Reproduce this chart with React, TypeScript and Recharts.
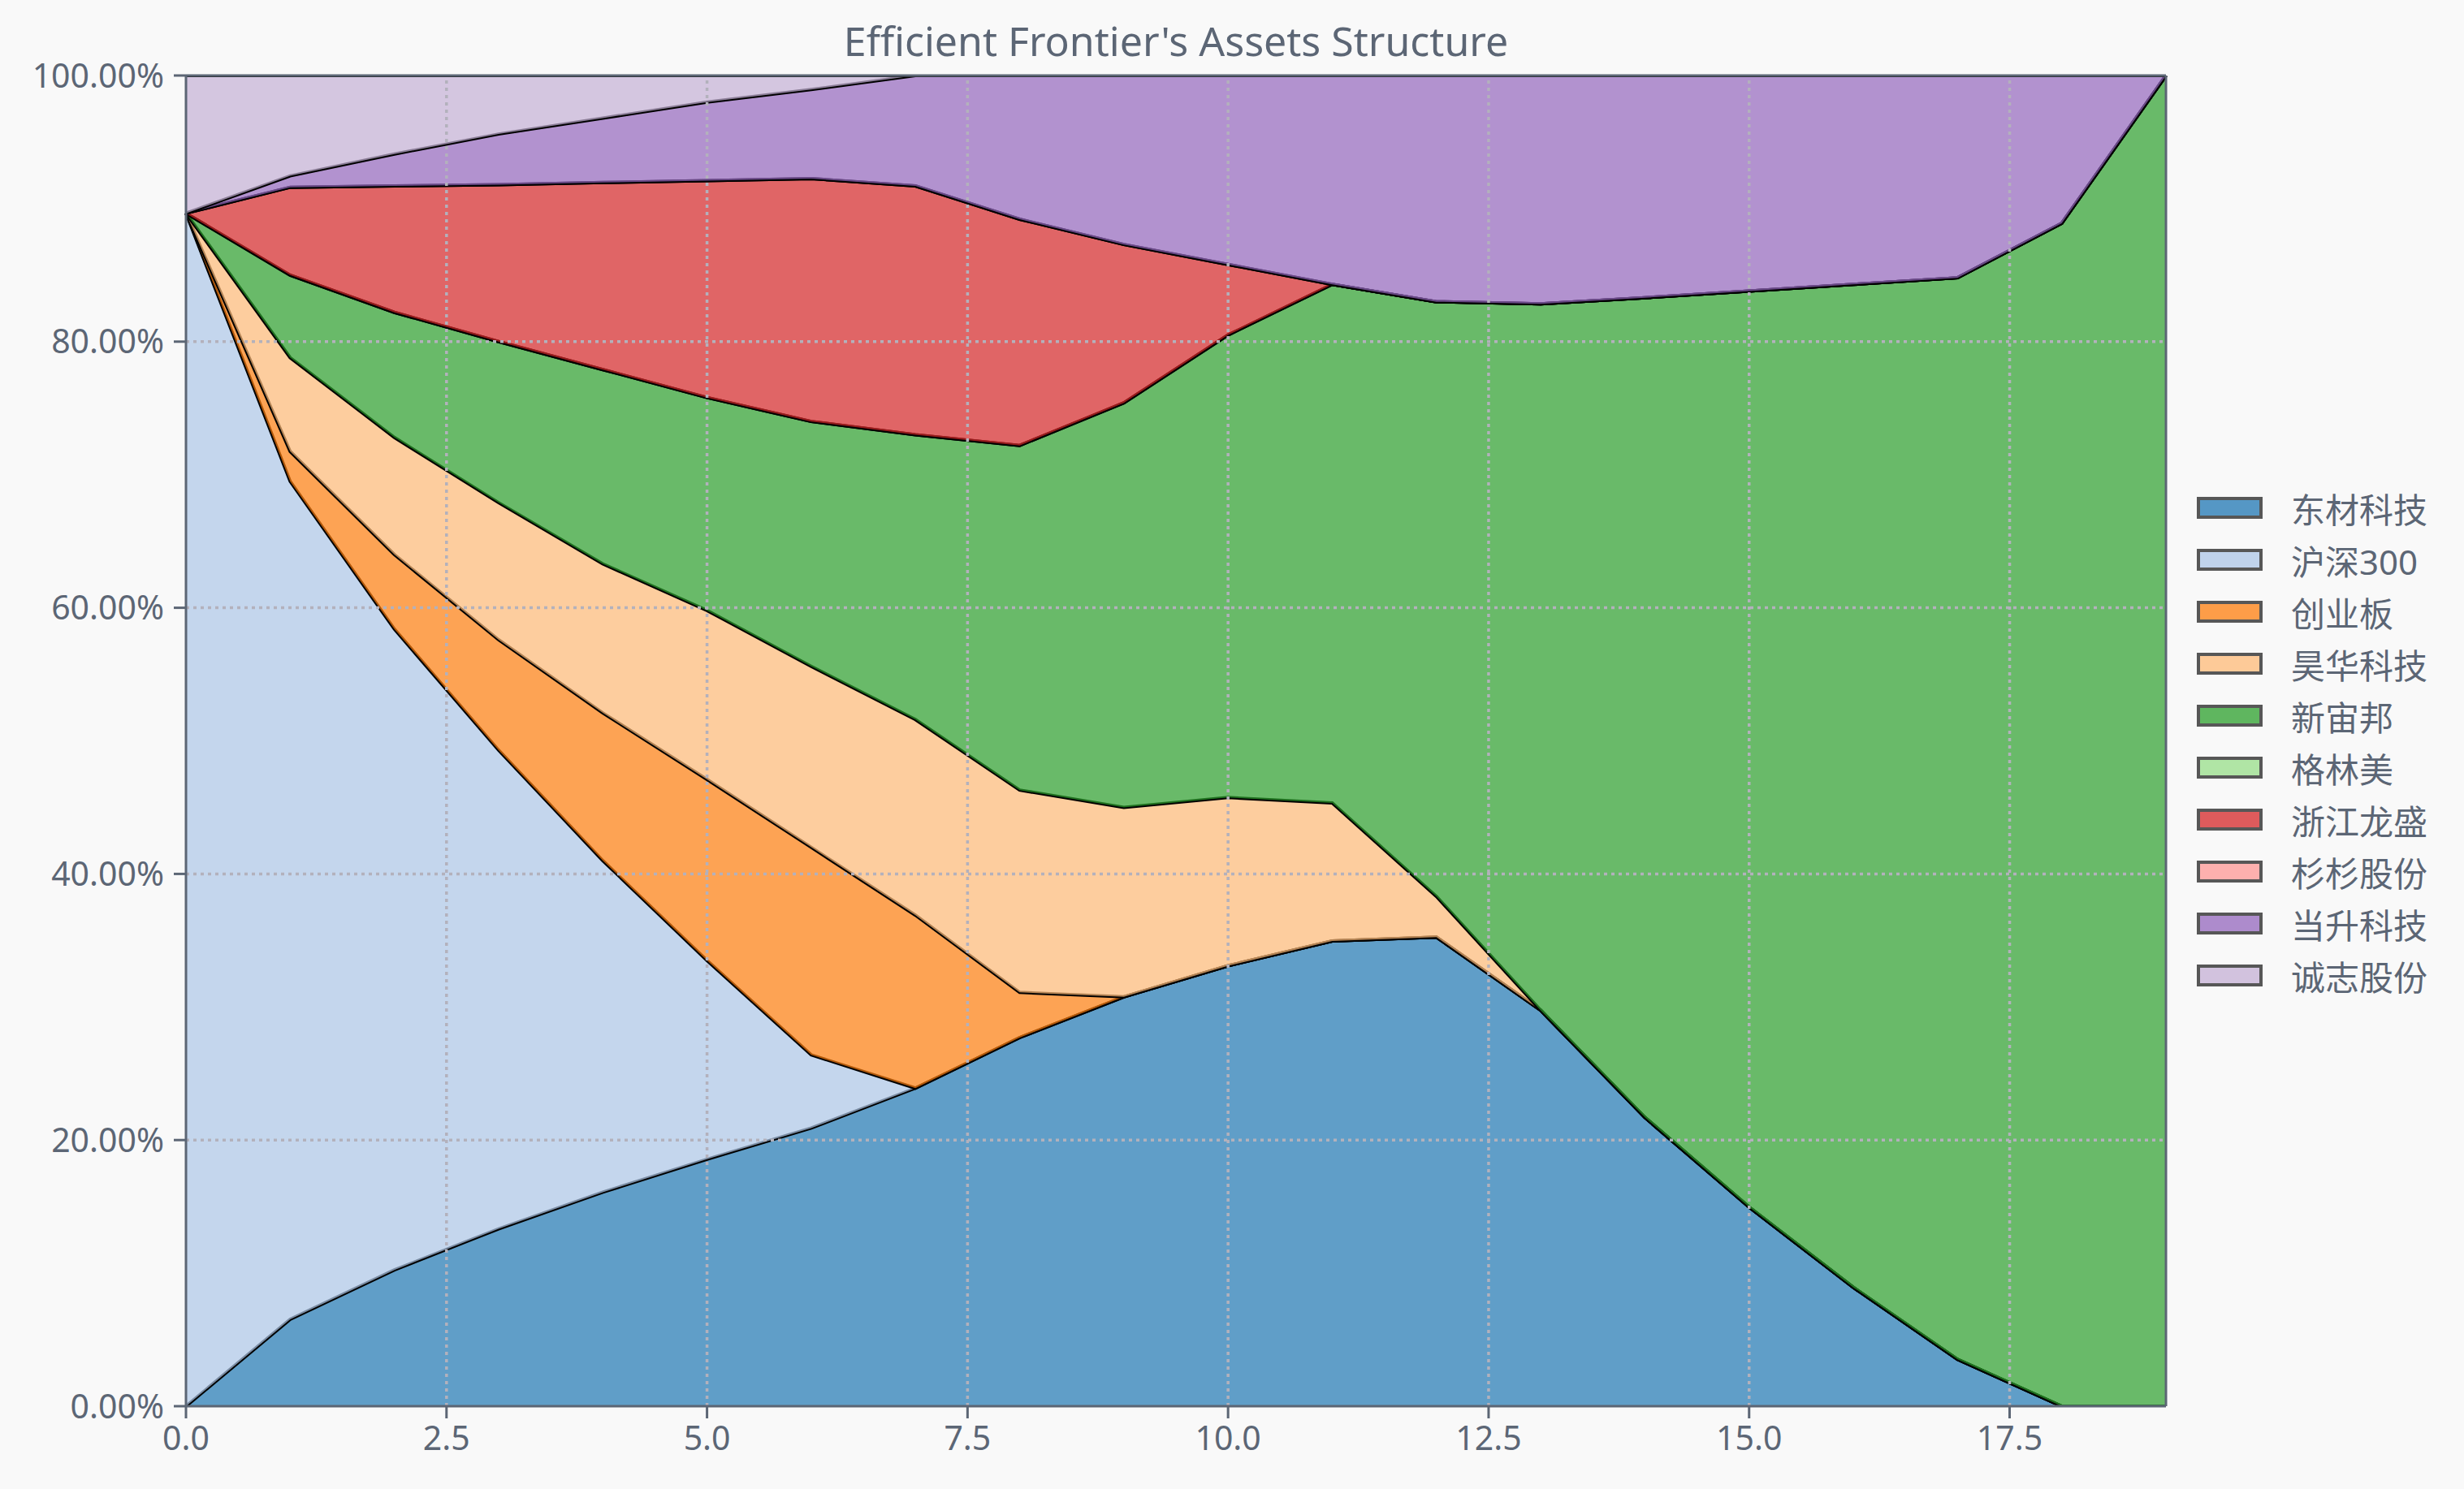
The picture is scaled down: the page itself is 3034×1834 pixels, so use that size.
import { AreaChart, Area, XAxis, YAxis, ReferenceLine } from 'recharts'

const xs = [0, 1, 2, 3, 4, 5, 6, 7, 8, 9, 10, 11, 12, 13, 14, 15, 16, 17, 18, 19]

const dongcai = [0, 6.53, 10.24, 13.33, 16.08, 18.56, 20.9, 23.9, 27.7, 30.76, 33.1, 34.96, 35.25, 29.75, 21.7, 14.96, 8.93, 3.52, 0, 0]
const hs300 = [89.65, 62.97, 48.16, 35.97, 24.92, 14.94, 5.5, 0, 0, 0, 0, 0, 0, 0, 0, 0, 0, 0, 0, 0]
const chuangye = [0, 2.25, 5.6, 8.3, 11.1, 13.6, 15.6, 13.0, 3.4, 0, 0, 0, 0, 0, 0, 0, 0, 0, 0, 0]
const haohua = [0, 7.05, 8.8, 10.3, 11.2, 12.7, 13.6, 14.7, 15.2, 14.24, 12.64, 10.37, 3.05, 0, 0, 0, 0, 0, 0, 0]
const xinzhoubang = [0, 6.2, 9.4, 12.1, 14.6, 16.0, 18.4, 21.4, 25.9, 30.4, 34.76, 38.97, 44.7, 53.09, 61.6, 68.84, 75.37, 81.28, 88.9, 100]
const gelinmei = [0, 0, 0, 0, 0, 0, 0, 0, 0, 0, 0, 0, 0, 0, 0, 0, 0, 0, 0, 0]
const zhejiang = [0, 6.6, 9.5, 11.8, 14.06, 16.3, 18.25, 18.7, 17.0, 11.9, 5.3, 0, 0, 0, 0, 0, 0, 0, 0, 0]
const shanshan = [0, 0, 0, 0, 0, 0, 0, 0, 0, 0, 0, 0, 0, 0, 0, 0, 0, 0, 0, 0]
const dangsheng = [0, 0.86, 2.4, 3.8, 4.84, 5.9, 6.7, 8.3, 10.8, 12.7, 14.2, 15.7, 17.0, 17.16, 16.7, 16.2, 15.7, 15.2, 11.1, 0]
const chengzhi = [10.35, 7.54, 5.9, 4.4, 3.2, 2.0, 1.05, 0, 0, 0, 0, 0, 0, 0, 0, 0, 0, 0, 0, 0]

const names = ['东材科技', '沪深300', '创业板', '昊华科技', '新宙邦', '格林美', '浙江龙盛', '杉杉股份', '当升科技', '诚志股份']
const values = [dongcai, hs300, chuangye, haohua, xinzhoubang, gelinmei, zhejiang, shanshan, dangsheng, chengzhi]
const colors = ['#1f77b4', '#aec7e8', '#ff7f0e', '#ffbb78', '#2ca02c', '#98df8a', '#d62728', '#ff9896', '#9467bd', '#c5b0d5']

const xTicks = [0, 2.5, 5, 7.5, 10, 12.5, 15, 17.5]
const yTicks = [0, 20, 40, 60, 80, 100]

const data = xs.map((x, i) => {
  const row: Record<string, number> = { x }
  names.forEach((n, k) => { row[n] = values[k][i] })
  return row
})

const FONT = '"Noto Sans", "Noto Sans CJK SC", sans-serif'
const INK = '#5c6675'
const BG = '#f9f9f9'
const GRID = '#b3b1bc'

// legend sits to the right of the plot, same order as the stack (bottom first)
function LegendBox() {
  return (
    <div style={{ position: 'absolute', left: 2705, top: 593, fontFamily: FONT }}>
      {names.map((n, k) => (
        <div key={n} style={{ display: 'flex', alignItems: 'center', height: 64 }}>
          <div style={{
            width: 73, height: 19, background: colors[k], opacity: 0.75,
            border: '4px solid #222', boxSizing: 'content-box',
          }} />
          <span style={{ marginLeft: 35, fontSize: 42, color: INK }}>{n}</span>
        </div>
      ))}
    </div>
  )
}

export default function App() {
  return (
    <div style={{ position: 'fixed', left: 0, top: 0, width: 3034, height: 1834, background: BG, fontFamily: FONT }}>
      <div style={{
        position: 'absolute', left: 229, width: 2438, top: 16, textAlign: 'center',
        fontSize: 50, color: INK,
      }}>
        Efficient Frontier's Assets Structure
      </div>
      <AreaChart
        width={3034}
        height={1834}
        data={data}
        margin={{ top: 93, right: 367, bottom: 0, left: 0 }}
        style={{ position: 'absolute', left: 0, top: 0 }}
      >
        {names.map((n, k) => (
          <Area
            key={n}
            type="linear"
            dataKey={n}
            stackId="1"
            stroke="#000"
            strokeWidth={4}
            fill={colors[k]}
            fillOpacity={0.7}
            dot={false}
            activeDot={false}
            isAnimationActive={false}
          />
        ))}
        <XAxis
          dataKey="x"
          type="number"
          domain={[0, 19]}
          ticks={xTicks}
          tickFormatter={(v: number) => v.toFixed(1)}
          height={102}
          stroke={INK}
          strokeWidth={3}
          tickSize={15}
          tickMargin={10}
          tick={{ fontSize: 41, fill: INK, fontFamily: FONT }}
        />
        <YAxis
          type="number"
          domain={[0, 100]}
          ticks={yTicks}
          allowDataOverflow
          tickFormatter={(v: number) => v.toFixed(2) + '%'}
          width={229}
          stroke={INK}
          strokeWidth={3}
          tickSize={15}
          tickMargin={12}
          tick={{ fontSize: 41, fill: INK, fontFamily: FONT }}
        />
        {/* dotted grid drawn over the filled areas, like the original */}
        {xTicks.slice(1).map((t) => (
          <ReferenceLine key={'gx' + t} x={t} stroke={GRID} strokeWidth={3.5} strokeDasharray="4 5" />
        ))}
        {yTicks.slice(1, -1).map((t) => (
          <ReferenceLine key={'gy' + t} y={t} stroke={GRID} strokeWidth={3.5} strokeDasharray="4 5" />
        ))}
        <ReferenceLine y={100} stroke={INK} strokeWidth={3} />
        <ReferenceLine x={19} stroke={INK} strokeWidth={3} />
      </AreaChart>
      <LegendBox />
    </div>
  )
}
